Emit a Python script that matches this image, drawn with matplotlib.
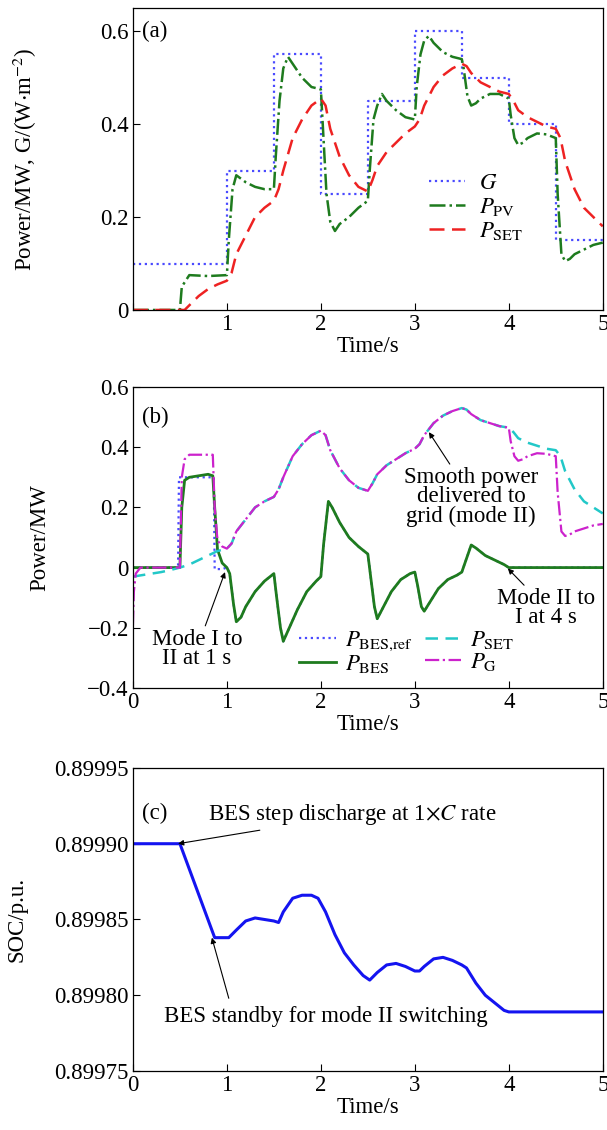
import numpy as np
import matplotlib
matplotlib.use("Agg")
import matplotlib.pyplot as plt
from matplotlib.ticker import FuncFormatter

plt.rcParams['font.family'] = ['Liberation Serif', 'DejaVu Serif']
plt.rcParams['mathtext.fontset'] = 'stix'
plt.rcParams['font.size'] = 16.5

# ---- panel (a) data ----
g_t = [0, 1, 1, 1.5, 1.5, 2, 2, 2.5, 2.5, 3, 3, 3.5, 3.5, 4, 4, 4.5, 4.5, 5]
g_v = [0.1, 0.1, 0.3, 0.3, 0.55, 0.55, 0.25, 0.25, 0.45, 0.45, 0.6, 0.6,
       0.5, 0.5, 0.4, 0.4, 0.15, 0.15]

ppv_t = [0, 0.5, 0.52, 0.6, 0.8, 1.0, 1.02, 1.06, 1.1, 1.2, 1.3, 1.4, 1.5,
         1.52, 1.56, 1.6, 1.65, 1.7, 1.8, 1.9, 2.0, 2.02, 2.06, 2.1, 2.15,
         2.2, 2.3, 2.4, 2.5, 2.52, 2.56, 2.6, 2.65, 2.7, 2.8, 2.9, 3.0, 3.02,
         3.06, 3.1, 3.15, 3.2, 3.3, 3.4, 3.5, 3.52, 3.56, 3.6, 3.65, 3.7, 3.8,
         3.9, 4.0, 4.02, 4.06, 4.1, 4.15, 4.2, 4.3, 4.4, 4.5, 4.52, 4.56, 4.6,
         4.65, 4.7, 4.8, 4.9, 5.0]
ppv_v = [0, 0.0, 0.05, 0.075, 0.073, 0.075, 0.15, 0.26, 0.29, 0.275, 0.265,
         0.26, 0.26, 0.33, 0.45, 0.52, 0.545, 0.53, 0.5, 0.48, 0.475, 0.4,
         0.25, 0.19, 0.17, 0.185, 0.2, 0.22, 0.235, 0.3, 0.41, 0.44, 0.465,
         0.45, 0.43, 0.415, 0.41, 0.48, 0.55, 0.58, 0.59, 0.575, 0.555, 0.545,
         0.54, 0.52, 0.46, 0.44, 0.445, 0.455, 0.465, 0.465, 0.455, 0.42,
         0.37, 0.355, 0.36, 0.37, 0.38, 0.378, 0.37, 0.25, 0.12, 0.105, 0.11,
         0.12, 0.13, 0.14, 0.145]

pset_t = [0, 0.55, 0.6, 0.7, 0.8, 0.9, 1.0, 1.05, 1.1, 1.2, 1.3, 1.4, 1.5,
          1.55, 1.6, 1.7, 1.8, 1.9, 2.0, 2.05, 2.1, 2.2, 2.3, 2.4, 2.5, 2.55,
          2.6, 2.7, 2.8, 2.9, 3.0, 3.05, 3.1, 3.2, 3.3, 3.4, 3.5, 3.55, 3.6,
          3.7, 3.8, 3.9, 4.0, 4.05, 4.1, 4.2, 4.3, 4.4, 4.5, 4.55, 4.6, 4.7,
          4.8, 4.9, 5.0]
pset_v = [0, 0.0, 0.01, 0.03, 0.045, 0.055, 0.063, 0.08, 0.12, 0.16, 0.2,
          0.22, 0.235, 0.26, 0.3, 0.37, 0.41, 0.44, 0.455, 0.44, 0.39, 0.33,
          0.29, 0.265, 0.255, 0.28, 0.31, 0.34, 0.36, 0.38, 0.395, 0.41, 0.44,
          0.48, 0.505, 0.52, 0.53, 0.525, 0.51, 0.49, 0.48, 0.47, 0.465, 0.45,
          0.43, 0.415, 0.405, 0.395, 0.39, 0.37, 0.32, 0.26, 0.22, 0.2, 0.18]

# ---- panel (b) data ----
pbes_t = [0, 0.5, 0.52, 0.55, 0.6, 0.7, 0.8, 0.85, 0.87, 0.9, 0.95, 1.0,
          1.03, 1.07, 1.1, 1.15, 1.2, 1.3, 1.4, 1.5, 1.53, 1.57, 1.6, 1.65,
          1.75, 1.85, 1.95, 2.0, 2.03, 2.08, 2.12, 2.2, 2.3, 2.4, 2.5, 2.53,
          2.57, 2.6, 2.65, 2.75, 2.85, 2.95, 3.0, 3.03, 3.07, 3.1, 3.15, 3.25,
          3.35, 3.45, 3.5, 3.55, 3.6, 3.65, 3.75, 3.85, 3.95, 4.0, 5.0]
pbes_v = [0, 0, 0.2, 0.29, 0.3, 0.305, 0.31, 0.305, 0.2, 0.06, 0.015, 0.0,
          -0.02, -0.12, -0.18, -0.165, -0.13, -0.08, -0.045, -0.02, -0.1,
          -0.2, -0.245, -0.21, -0.14, -0.08, -0.045, -0.03, 0.08, 0.22, 0.2,
          0.15, 0.1, 0.07, 0.045, -0.03, -0.13, -0.17, -0.14, -0.08, -0.04,
          -0.02, -0.015, -0.06, -0.13, -0.145, -0.12, -0.07, -0.04, -0.025,
          -0.015, 0.03, 0.075, 0.065, 0.04, 0.025, 0.01, 0.0, 0.0]

# reference before 1 s (step discharge), then it tracks P_BES
pref_pre_t = [0, 0.48, 0.49, 0.86, 0.87, 0.95]
pref_pre_v = [0, 0, 0.3, 0.3, -0.005, -0.005]

# P_SET seen by the grid side before 1 s
pset_b_pre_t = [0, 0.1, 0.2, 0.3, 0.4, 0.5, 0.6, 0.7, 0.8, 0.9]
pset_b_pre_v = [-0.03, -0.025, -0.02, -0.015, -0.008, 0.0, 0.01, 0.025,
                0.04, 0.055]

# grid power before 1 s (mode I)
pg_pre_t = [0, 0.01, 0.03, 0.08, 0.5, 0.52, 0.55, 0.6, 0.85, 0.87, 0.9, 0.95]
pg_pre_v = [-0.19, -0.08, -0.02, 0.0, 0.0, 0.3, 0.36, 0.375, 0.375, 0.2,
            0.09, 0.07]

# ---- panel (c) data ----
soc_t = [0, 0.5, 0.87, 1.02, 1.1, 1.2, 1.3, 1.4, 1.5, 1.55, 1.6, 1.7, 1.8,
         1.9, 1.97, 2.05, 2.15, 2.25, 2.35, 2.45, 2.52, 2.6, 2.7, 2.8, 2.9,
         3.0, 3.05, 3.1, 3.2, 3.3, 3.4, 3.5, 3.55, 3.65, 3.75, 3.85, 3.95,
         4.0, 5.0]
soc_v = [0.89990, 0.89990, 0.899838, 0.899838, 0.899843, 0.899849, 0.899851,
         0.89985, 0.899849, 0.899848, 0.899855, 0.899864, 0.899866, 0.899866,
         0.899864, 0.899855, 0.89984, 0.899828, 0.89982, 0.899813, 0.89981,
         0.899815, 0.89982, 0.899821, 0.899819, 0.899816, 0.899816, 0.899819,
         0.899824, 0.899825, 0.899823, 0.89982, 0.899818, 0.899808, 0.8998,
         0.899795, 0.89979, 0.899789, 0.899789]

# combine segments for panel (b)
pbes_t_a = np.array(pbes_t)
pbes_v_a = np.array(pbes_v)
pset_t_a = np.array(pset_t)
pset_v_a = np.array(pset_v)
ppv_t_a = np.array(ppv_t)
ppv_v_a = np.array(ppv_v)

m = pbes_t_a >= 1.0
pref_t = np.r_[pref_pre_t, pbes_t_a[m]]
pref_v = np.r_[pref_pre_v, pbes_v_a[m]]

m = pset_t_a >= 1.0
pset_b_t = np.r_[pset_b_pre_t, pset_t_a[m]]
pset_b_v = np.r_[pset_b_pre_v, pset_v_a[m]]

m1 = (pset_t_a >= 1.0) & (pset_t_a <= 4.0)
m2 = ppv_t_a > 4.0
pg_t = np.r_[pg_pre_t, pset_t_a[m1], ppv_t_a[m2]]
pg_v = np.r_[pg_pre_v, pset_v_a[m1], ppv_v_a[m2]]


def fmt_plain(x, pos):
    if abs(x) < 1e-9:
        return '0'
    return ('%.1f' % x).replace('-', '\u2212')


def style_axis(ax):
    ax.tick_params(direction='in', length=5, width=0.8, top=False,
                   right=False, pad=3)
    for s in ax.spines.values():
        s.set_linewidth(0.9)
    ax.set_xlim(0, 5)
    ax.set_xlabel('Time/s')
    ax.xaxis.set_label_coords(0.5, -0.085)


fig = plt.figure(figsize=(6.07, 11.3), dpi=100)
left, width = 0.219, 0.774
ax1 = fig.add_axes([left, 0.7257, width, 0.2672])
ax2 = fig.add_axes([left, 0.3912, width, 0.2663])
ax3 = fig.add_axes([left, 0.0522, width, 0.2682])

# (a)
ax1.plot(g_t, g_v, ':', color='#4a4aff', lw=1.6, label=r'$G$')
ax1.plot(ppv_t, ppv_v, '-.', color='#1e7b1e', lw=1.8, label=r'$P_{\rm PV}$')
ax1.plot(pset_t, pset_v, '--', color='#ee2222', lw=1.8, dashes=(6, 3),
         label=r'$P_{\rm SET}$')
style_axis(ax1)
ax1.set_ylim(0, 0.65)
ax1.set_yticks([0, 0.2, 0.4, 0.6])
ax1.set_xticks([0, 1, 2, 3, 4, 5])
ax1.set_xticklabels(['', '1', '2', '3', '4', '5'])
ax1.yaxis.set_major_formatter(FuncFormatter(fmt_plain))
ax1.set_ylabel(r'Power/MW, G/(W$\cdot$m$^{-2}$)')
ax1.yaxis.set_label_coords(-0.2, 0.5)
ax1.text(0.1, 0.6, '(a)', va='center')
ax1.legend(loc='upper left', bbox_to_anchor=(0.6, 0.5), frameon=False,
           handlelength=1.6, handletextpad=0.6, labelspacing=0.1,
           borderpad=0.1)

# (b)
ax2.plot(pref_t, pref_v, ':', color='#4a4aff', lw=1.6,
         label=r'$P_{\rm BES{,}ref}$')
ax2.plot(pbes_t, pbes_v, '-', color='#1e7b1e', lw=2.0, label=r'$P_{\rm BES}$')
ax2.plot(pset_b_t, pset_b_v, '--', color='#22c8c8', lw=1.8, dashes=(5, 3),
         label=r'$P_{\rm SET}$')
ax2.plot(pg_t, pg_v, '-.', color='#cc22cc', lw=1.6, label=r'$P_{\rm G}$')
style_axis(ax2)
ax2.set_ylim(-0.4, 0.6)
ax2.set_yticks([-0.4, -0.2, 0, 0.2, 0.4, 0.6])
ax2.yaxis.set_major_formatter(FuncFormatter(fmt_plain))
ax2.set_ylabel('Power/MW')
ax2.yaxis.set_label_coords(-0.175, 0.5)
ax2.text(0.1, 0.5, '(b)', va='center')
ax2.legend(loc='upper left', bbox_to_anchor=(0.33, 0.235), ncol=2,
           frameon=False, handlelength=1.6, handletextpad=0.4,
           labelspacing=0.0, columnspacing=0.5, borderpad=0.0)

arrow = dict(arrowstyle='-|>', color='black', lw=0.8, mutation_scale=8,
             shrinkA=0, shrinkB=0)
ax2.annotate('Smooth power\ndelivered to\ngrid (mode II)', xy=(3.15, 0.45),
             xytext=(3.6, 0.235), ha='center', va='center',
             linespacing=0.9, arrowprops=arrow)
ax2.annotate('Mode I to\nII at 1 s', xy=(0.98, -0.015),
             xytext=(0.68, -0.27), ha='center', va='center',
             linespacing=0.9, arrowprops=arrow)
ax2.annotate('Mode II to\nI at 4 s', xy=(3.99, -0.003),
             xytext=(4.4, -0.135), ha='center', va='center',
             linespacing=0.9, arrowprops=arrow)

# (c)
ax3.plot(soc_t, soc_v, '-', color='#1414f0', lw=2.2)
style_axis(ax3)
ax3.set_ylim(0.89975, 0.89995)
ax3.set_yticks([0.89975, 0.89980, 0.89985, 0.89990, 0.89995])
ax3.yaxis.set_major_formatter(FuncFormatter(lambda x, p: '%.5f' % x))
ax3.set_ylabel('SOC/p.u.')
ax3.yaxis.set_label_coords(-0.225, 0.5)
ax3.text(0.1, 0.89992, '(c)', va='center')
ax3.annotate(r'BES step discharge at 1$\times$$C$ rate',
             xy=(0.48, 0.8999), xytext=(0.8, 0.899919), ha='left',
             va='center', arrowprops=arrow)
ax3.text(2.05, 0.899786, 'BES standby for mode II switching',
         ha='center', va='center')
ax3.annotate('', xy=(0.84, 0.899838), xytext=(1.02, 0.899798),
             arrowprops=arrow)

fig.savefig('out.png', dpi=100)
